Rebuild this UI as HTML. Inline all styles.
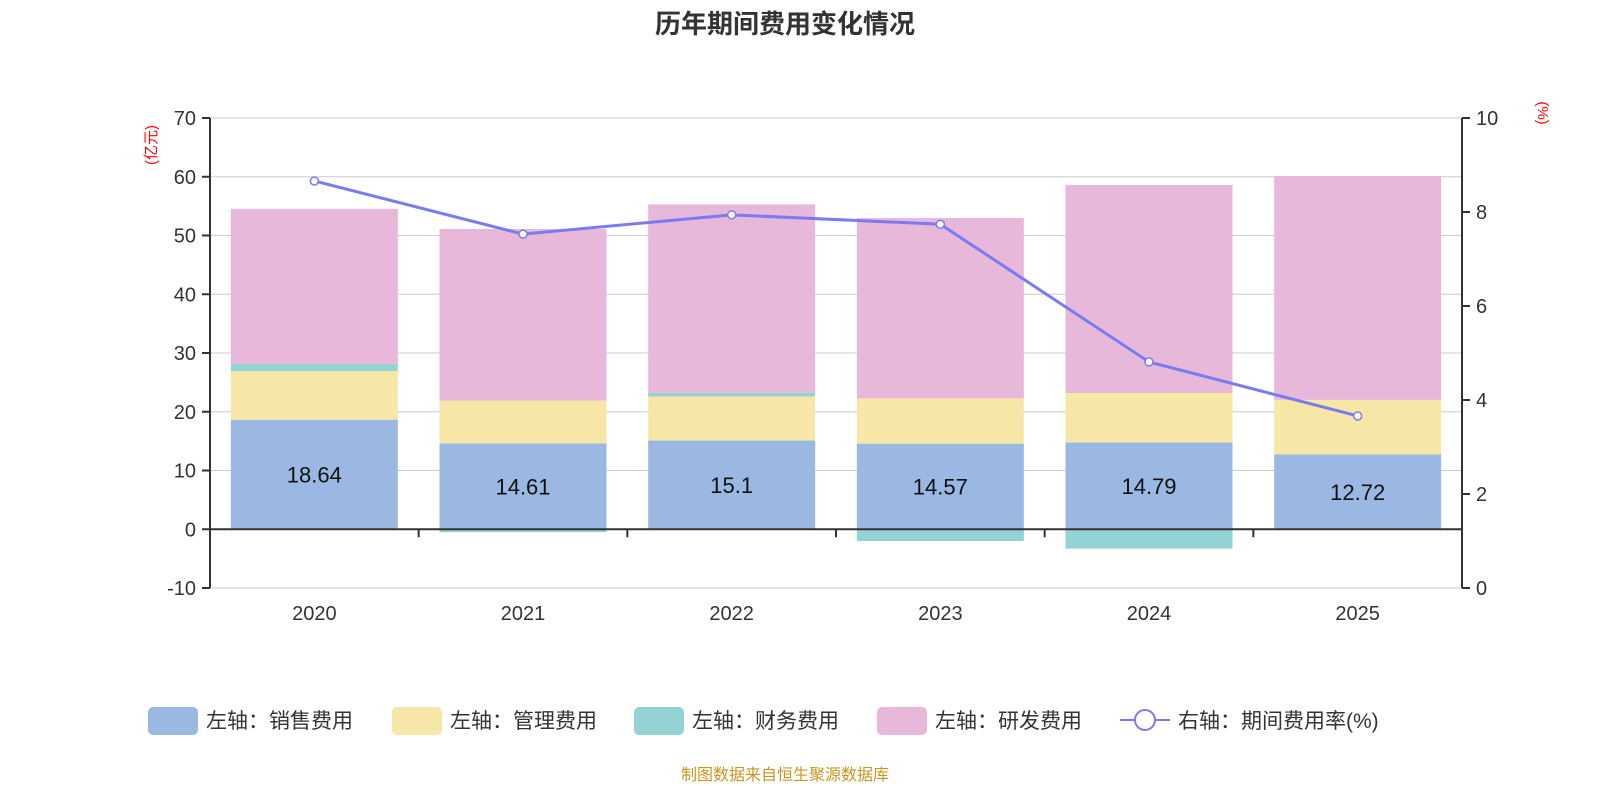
<!DOCTYPE html>
<html><head><meta charset="utf-8"><style>
body{margin:0;background:#fff;font-family:"Liberation Sans","Noto Sans CJK SC",sans-serif}
</style></head><body>
<svg id="c" width="1600" height="800" xmlns="http://www.w3.org/2000/svg" font-family="Liberation Sans, Noto Sans CJK SC, sans-serif">
<text x="785" y="33" text-anchor="middle" font-size="26" font-weight="bold" fill="#333">历年期间费用变化情况</text>
<text x="785" y="780" text-anchor="middle" font-size="16" fill="#c8961e">制图数据来自恒生聚源数据库</text>
<text transform="translate(156,145) rotate(-90)" text-anchor="middle" font-size="15" fill="red">(亿元)</text>
<text transform="translate(1538,113) rotate(90)" text-anchor="middle" font-size="15" fill="red">(%)</text>
<g id="grid"></g><g id="bars"></g><g id="axes"></g><g id="line"></g><g id="legend"></g>
</svg>
<script>
const categories=["2020","2021","2022","2023","2024","2025"];
const sales=[18.64,14.61,15.1,14.57,14.79,12.72];
const mgmt=[8.3,7.3,7.5,7.7,8.4,9.3];
const finance=[1.2,-0.5,0.6,-2.0,-3.3,0];
const rnd=[26.4,29.2,32.1,30.7,35.4,38.1];
const rate=[8.66,7.53,7.94,7.74,4.81,3.66];
const leftTicks=[-10,0,10,20,30,40,50,60,70];
const rightTicks=[0,2,4,6,8,10];
const NS="http://www.w3.org/2000/svg";
const X0=210,X1=1462,YT=118,YB=588;
const yL=v=>YB-(v+10)/80*(YB-YT);
const yR=v=>YB-v/10*(YB-YT);
const bw=(X1-X0)/categories.length;
const xc=i=>X0+bw*(i+0.5);
function mk(t,a,p){const e=document.createElementNS(NS,t);for(const k in a)e.setAttribute(k,a[k]);p.appendChild(e);return e;}
const grid=document.getElementById('grid'),axes=document.getElementById('axes'),bars=document.getElementById('bars'),line=document.getElementById('line'),leg=document.getElementById('legend');
leftTicks.forEach(v=>{
 const g=mk('line',{x1:X0,x2:X1,y1:yL(v),y2:yL(v),stroke:'#ccc','stroke-width':1},grid);
 
 
 const tk=mk('line',{x1:X0-8,x2:X0,y1:yL(v),y2:yL(v),stroke:'#333','stroke-width':2},axes);
 
 
 const t=mk('text',{x:X0-14,y:yL(v)+7,'text-anchor':'end','font-size':20,fill:'#333'},axes);t.textContent=v;
 
 
});
rightTicks.forEach(v=>{
 const tk=mk('line',{x1:X1,x2:X1+8,y1:yR(v),y2:yR(v),stroke:'#333','stroke-width':2},axes);
 
 
 const t=mk('text',{x:X1+14,y:yR(v)+7,'font-size':20,fill:'#333'},axes);t.textContent=v;
 
 
});
let a=mk('line',{x1:X0,x2:X0,y1:YT,y2:YB,stroke:'#333','stroke-width':2},axes);


a=mk('line',{x1:X1,x2:X1,y1:YT,y2:YB,stroke:'#333','stroke-width':2},axes);


a=mk('line',{x1:X0,x2:X1,y1:yL(0),y2:yL(0),stroke:'#333','stroke-width':2},axes);


categories.forEach((c,i)=>{
 const tk=mk('line',{x1:X0+bw*(i+1),x2:X0+bw*(i+1),y1:yL(0),y2:yL(0)+8,stroke:'#333','stroke-width':2},axes);
 
 
 const t=mk('text',{x:xc(i),y:620,'text-anchor':'middle','font-size':20,fill:'#333'},axes);t.textContent=c;
 
 
});
const series=[[sales,'#9bb8e2','sales'],[mgmt,'#f7e7a6','mgmt'],[finance,'#94d3d3','finance'],[rnd,'#e7b8d9','rnd']];
const W=167;
categories.forEach((c,i)=>{
 let pos=0,neg=0;
 series.forEach(([arr,col,nm])=>{
  const v=arr[i];let y0,y1;
  if(v>=0){y0=pos;y1=pos+v;pos=y1;}else{y0=neg+v;y1=neg;neg=y0;}
  const r=mk('rect',{x:xc(i)-W/2,y:yL(y1),width:W,height:Math.max(0,yL(y0)-yL(y1)),fill:col},bars);
  
  
 });
 const t=mk('text',{x:xc(i),y:yL(sales[i]/2)+8,'text-anchor':'middle','font-size':22,fill:'#111'},bars);t.textContent=sales[i];
 
 
});
const pl=mk('polyline',{points:rate.map((v,i)=>xc(i)+','+yR(v)).join(' '),fill:'none',stroke:'#7b7bf0','stroke-width':3},line);


rate.forEach((v,i)=>{
 const p=mk('circle',{cx:xc(i),cy:yR(v),r:4,fill:'#fff',stroke:'#7b7bf0','stroke-width':1.5},line);
 
 
});
const items=[['#9bb8e2','左轴：销售费用',148],['#f7e7a6','左轴：管理费用',392],['#94d3d3','左轴：财务费用',634],['#e7b8d9','左轴：研发费用',877]];
items.forEach(([col,lab,x])=>{
 const r=mk('rect',{x:x,y:707,width:50,height:28,rx:5,fill:col},leg);
 
 
 const t=mk('text',{x:x+58,y:728,'font-size':21,fill:'#333'},leg);t.textContent=lab;
 
 
});
let l=mk('line',{x1:1120,x2:1170,y1:720,y2:720,stroke:'#7b7bf0','stroke-width':2},leg);


l=mk('circle',{cx:1145,cy:720,r:10,fill:'#fff',stroke:'#7b7bf0','stroke-width':2},leg);


const lt=mk('text',{x:1178,y:728,'font-size':21,fill:'#333'},leg);lt.textContent='右轴：期间费用率(%)';


</script>
</body></html>
